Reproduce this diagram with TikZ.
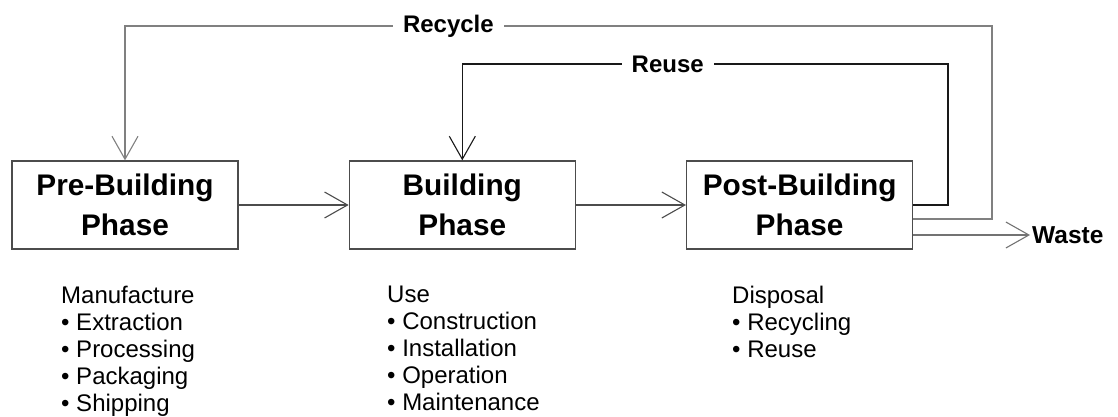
\documentclass[tikz,border=0pt]{standalone}
\usepackage{fontspec}
\setmainfont{Liberation Sans}
\usetikzlibrary{arrows.meta, positioning}
\tikzset{
  phasebox/.style={
    rectangle, draw=black!70, line width=1.3pt, inner sep=0pt,
    minimum width=226pt, minimum height=88pt, align=center,
    font=\fontsize{29.8}{40}\selectfont\bfseries
  },
  flowarrow/.style={
    line width=1.1pt, draw=black!70, -{Straight Barb[length=23pt,width=26pt]}
  },
  reusearrow/.style={flowarrow, draw=black!90},
  recyclearrow/.style={flowarrow, draw=black!50},
  wastearrow/.style={flowarrow, draw=black!55},
  looplabel/.style={
    fill=white, inner xsep=10pt, inner ysep=1pt,
    font=\fontsize{24}{28}\selectfont\bfseries
  },
  listtext/.style={
    align=left, inner sep=0pt, anchor=north west,
    font=\fontsize{24}{27}\selectfont
  }
}

\begin{document}
\begin{tikzpicture}[x=1pt, y=-1pt, node distance=110pt]
  \useasboundingbox (0,0) rectangle (1118,417);

  % the three phases
  \node[phasebox] (pre) at (125,205) {Pre-Building\\Phase};
  \node[phasebox, right=of pre] (build) {Building\\Phase};
  \node[phasebox, right=of build] (post) {Post-Building\\Phase};
  \node[anchor=west, inner sep=2pt, font=\fontsize{24.5}{28}\selectfont\bfseries] (waste) at (1030,235) {Waste};

  % what happens in each phase
  \node[listtext] (prelist) at (61,286) {Manufacture\\• Extraction\\• Processing\\• Packaging\\• Shipping};
  \node[listtext] (buildlist) at (387,286) {Use\\• Construction\\• Installation\\• Operation\\• Maintenance};
  \node[listtext] (postlist) at (732,286) {Disposal\\• Recycling\\• Reuse};

  % corners of the feedback loops
  \coordinate (reusecorner) at (948,64);
  \coordinate (recyclecorner) at (992,26);

  \draw[flowarrow] (pre) -- (build);
  \draw[flowarrow] (build) -- (post);
  \draw[reusearrow] (post.east) -| (reusecorner)
    -- node[looplabel, pos=0.577] {Reuse} (reusecorner -| build) -- (build);
  \draw[recyclearrow] ([yshift=-14pt]post.east) -| (recyclecorner)
    -- node[looplabel, pos=0.627] {Recycle} (recyclecorner -| pre) -- (pre);
  \draw[wastearrow] ([yshift=-30pt]post.east) -- (waste.west);
\end{tikzpicture}
\end{document}
